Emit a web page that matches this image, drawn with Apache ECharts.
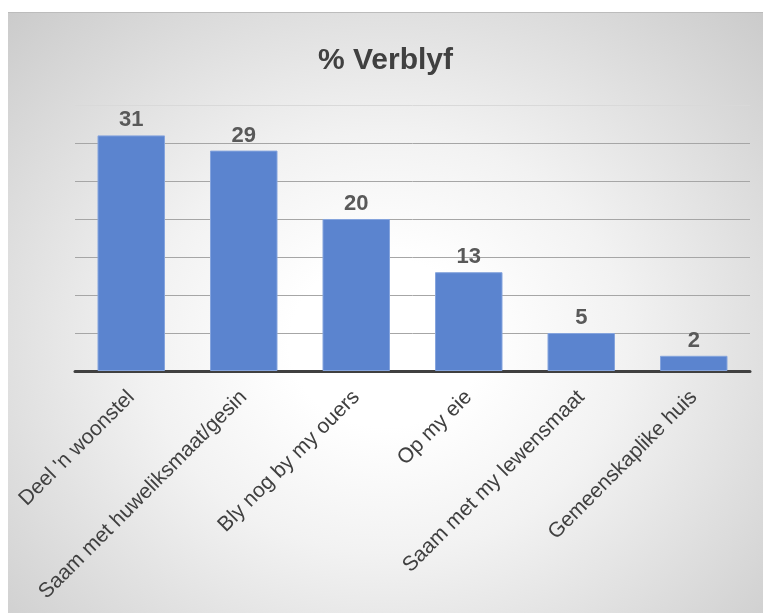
<!DOCTYPE html>
<html>
<head>
<meta charset="utf-8">
<script src="https://cdn.jsdelivr.net/npm/echarts@6/dist/echarts.min.js"></script>
<style>
html,body{margin:0;padding:0;background:#fff;width:769px;height:615px;overflow:hidden;}
#frame{position:absolute;left:8px;top:12px;width:755px;height:601px;
  background:radial-gradient(ellipse at 50% 55%, #ffffff 18%, #f2f2f2 45%, #cbcbcb 100%);
  border-top:1px solid #bcbcbc;box-sizing:border-box;}
#chart{width:100%;height:100%;}
</style>
</head>
<body>
<div id="frame"><div id="chart"></div></div>
<script>
const titleText = '% Verblyf';
const categories = ["Deel 'n woonstel", 'Saam met huweliksmaat/gesin', 'Bly nog by my ouers', 'Op my eie', 'Saam met my lewensmaat', 'Gemeenskaplike huis'];
const values = [31, 29, 20, 13, 5, 2];
const yTicks = [0, 5, 10, 15, 20, 25, 30, 35];

const chart = echarts.init(document.getElementById('chart'), null, {renderer: 'canvas'});
chart.setOption({
  backgroundColor: 'transparent',
  animation: false,
  title: {
    text: titleText, left: 'center', top: 28,
    textStyle: {fontFamily: 'Liberation Sans, Arial, sans-serif', fontWeight: 'bold', fontSize: 30, color: '#404040'}
  },
  grid: {left: 67, right: 13, top: 92, bottom: 242, containLabel: false},
  xAxis: {
    type: 'category', data: categories,
    axisLine: {show: true, lineStyle: {color: '#404040', width: 3}},
    axisTick: {show: false},
    axisLabel: {rotate: 45, margin: 23, interval: 0, fontFamily: 'Liberation Sans, Arial, sans-serif', fontSize: 21, color: '#404040'}
  },
  yAxis: {
    type: 'value', min: yTicks[0], max: yTicks[yTicks.length - 1], interval: 5,
    axisLabel: {show: false}, axisLine: {show: false}, axisTick: {show: false},
    splitLine: {show: true, lineStyle: {color: ['#a6a6a6', '#a6a6a6', '#a6a6a6', '#a6a6a6', '#a6a6a6', '#a6a6a6', '#a6a6a6', '#d9d9d9'], width: 1}}
  },
  series: [{
    type: 'bar', data: values, barWidth: '60%',
    itemStyle: {color: '#5b84cf', borderColor: '#85a4dd', borderWidth: 1},
    label: {show: true, position: 'top', distance: 4, fontFamily: 'Liberation Sans, Arial, sans-serif', fontWeight: 'bold', fontSize: 22, color: '#595959'}
  }]
});
</script>
</body>
</html>
